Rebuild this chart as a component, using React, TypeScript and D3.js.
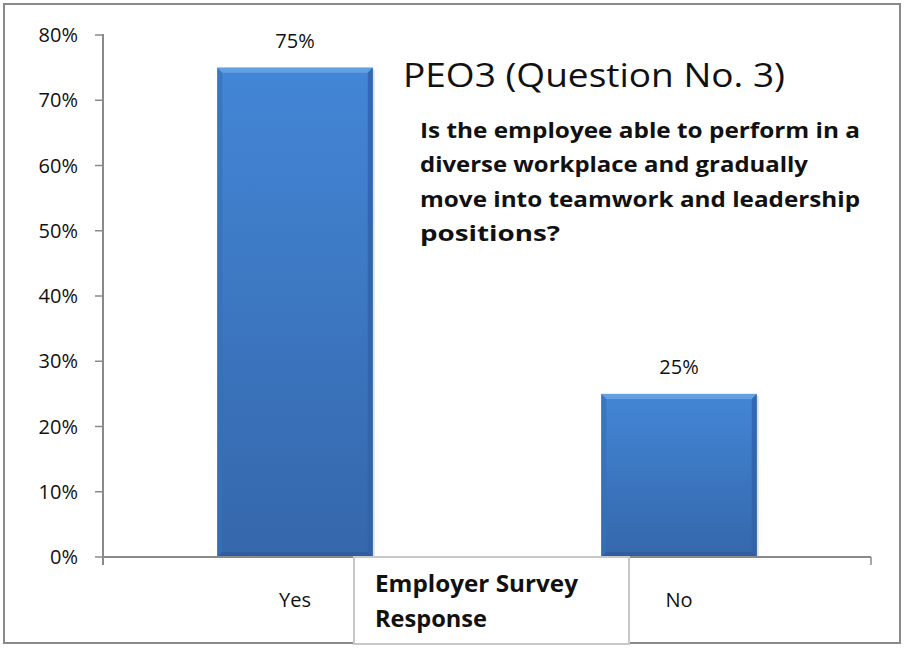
import React from "react";
import * as d3 from "d3";

const categories = ["Yes", "No"];
const values = [0.75, 0.25];
const yTicks = [0, 0.1, 0.2, 0.3, 0.4, 0.5, 0.6, 0.7, 0.8];
const title = "PEO3 (Question No. 3)";
const questionLines = [
  "Is the employee able to perform in a",
  "diverse workplace and gradually",
  "move into teamwork and leadership",
  "positions?",
];
const questionWidths = [440, 388, 440, 140];
const axisTitleLines = ["Employer Survey", "Response"];
const axisTitleWidths = [203, 112];

const W = 906;
const H = 648;
const FONT = "'Open Sans', Lato, sans-serif";

const App = () => {
  const left = 103;
  const right = 871;
  const top = 35;
  const bottom = 557;

  const x = d3.scaleBand<string>().domain(categories).range([left, right]);
  const y = d3.scaleLinear().domain([0, 0.8]).range([bottom, top]);
  const barW = x.bandwidth() * 0.405;
  const fmt = d3.format(".0%");
  const bev = 5;

  return (
    <svg
      width={W}
      height={H}
      style={{ position: "absolute", left: 0, top: 0, display: "block", background: "#fff" }}
    >
      <defs>
        <linearGradient id="barFill" x1="0" y1="0" x2="0" y2="1">
          <stop offset="0%" stopColor="#4386d6" />
          <stop offset="100%" stopColor="#3567ab" />
        </linearGradient>
      </defs>

      <rect x={4} y={4} width={896} height={639} fill="#fff" stroke="#8a8a8a" strokeWidth={2} />

      {/* y axis */}
      <line x1={left} x2={left} y1={top - 1} y2={bottom + 8} stroke="#8a8a8a" strokeWidth={2} />
      {yTicks.map((t) => (
        <g key={t}>
          <line x1={left - 8} x2={left} y1={y(t)} y2={y(t)} stroke="#8a8a8a" strokeWidth={1.5} />
          <text
            x={left - 25}
            y={y(t)}
            dy="0.36em"
            textAnchor="end"
            fontFamily={FONT}
            fontSize={20}
            fill="#111"
          >
            {fmt(t)}
          </text>
        </g>
      ))}

      {/* bars */}
      {categories.map((c, i) => {
        const cx = (x(c) as number) + x.bandwidth() / 2;
        const x0 = cx - barW / 2;
        const x1 = cx + barW / 2;
        const y0 = y(values[i]);
        const y1 = y(0);
        return (
          <g key={c}>
            <rect x={x0 + 2} y={y0 + 2} width={barW} height={y1 - y0 - 2} fill="#000" opacity={0.12} />
            <rect x={x0} y={y0} width={barW} height={y1 - y0} fill="url(#barFill)" />
            <polygon
              points={`${x0},${y0} ${x1},${y0} ${x1 - bev},${y0 + bev} ${x0 + bev},${y0 + bev}`}
              fill="#6aa3e6"
              opacity={0.85}
            />
            <polygon
              points={`${x0},${y0} ${x0 + bev},${y0 + bev} ${x0 + bev},${y1 - bev} ${x0},${y1}`}
              fill="#3570bb"
              opacity={0.7}
            />
            <polygon
              points={`${x1},${y0} ${x1 - bev},${y0 + bev} ${x1 - bev},${y1 - bev} ${x1},${y1}`}
              fill="#2f62a6"
              opacity={0.8}
            />
            <polygon
              points={`${x0},${y1} ${x0 + bev},${y1 - bev} ${x1 - bev},${y1 - bev} ${x1},${y1}`}
              fill="#2d5c9c"
              opacity={0.8}
            />
            <text
              x={cx}
              y={y0 - 20}
              textAnchor="middle"
              fontFamily={FONT}
              fontSize={20}
              fill="#111"
            >
              {fmt(values[i])}
            </text>
            <text
              x={cx}
              y={607}
              textAnchor="middle"
              fontFamily={FONT}
              fontSize={20}
              fill="#111"
            >
              {c}
            </text>
          </g>
        );
      })}

      {/* x axis */}
      <line x1={left} x2={right} y1={bottom} y2={bottom} stroke="#8a8a8a" strokeWidth={2} />
      {[left, x("No") as number, right].map((t) => (
        <line key={t} x1={t} x2={t} y1={bottom} y2={bottom + 8} stroke="#8a8a8a" strokeWidth={1.5} />
      ))}

      {/* axis title box */}
      <rect x={354} y={557} width={275} height={87} fill="#fff" stroke="#c8c8c8" strokeWidth={2} />
      {axisTitleLines.map((l, i) => (
        <text
          key={l}
          x={375}
          y={592 + i * 35}
          fontFamily={FONT}
          fontWeight="bold"
          fontSize={23}
          textLength={axisTitleWidths[i]}
          lengthAdjust="spacingAndGlyphs"
          fill="#111"
        >
          {l}
        </text>
      ))}

      {/* title */}
      <text
        x={403}
        y={87}
        fontFamily={FONT}
        fontSize={32}
        textLength={382}
        lengthAdjust="spacingAndGlyphs"
        fill="#111"
      >
        {title}
      </text>
      {questionLines.map((l, i) => (
        <text
          key={l}
          x={420}
          y={138 + i * 34.3}
          fontFamily={FONT}
          fontWeight="bold"
          fontSize={22}
          textLength={questionWidths[i]}
          lengthAdjust="spacingAndGlyphs"
          fill="#111"
        >
          {l}
        </text>
      ))}
    </svg>
  );
};

export default App;
